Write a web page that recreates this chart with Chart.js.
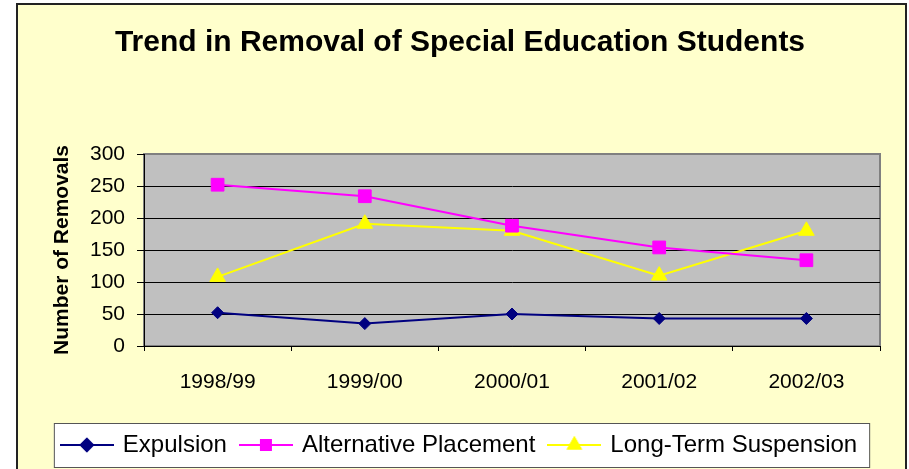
<!DOCTYPE html>
<html>
<head>
<meta charset="utf-8">
<script src="https://cdn.jsdelivr.net/npm/chart.js@4.4.1/dist/chart.umd.min.js"></script>
<style>
  html, body { margin: 0; padding: 0; background: #fff; }
  #frame { position: absolute; left: 16px; top: 3px; width: 887px; height: 480px; background: #FFFFCC; border: 2px solid #222; }
  #wrap { position: absolute; left: 0; top: 0; width: 909px; height: 469px; }
</style>
</head>
<body>
<div id="frame"></div>
<div id="wrap"><canvas id="chart" width="909" height="469"></canvas></div>
<script>
const categories = ['1998/99', '1999/00', '2000/01', '2001/02', '2002/03'];
const expulsion = [52, 35, 50, 43, 43];
const altPlacement = [252, 234, 188, 154, 134];
const longTermSuspension = [108, 191, 180, 110, 180];
const yTicks = [0, 50, 100, 150, 200, 250, 300];

const FONT = "'Liberation Sans', Arial, sans-serif";

// little line + marker picture for each legend entry
function legendIcon(color, style, r) {
  const cv = document.createElement('canvas');
  cv.width = 54; cv.height = 20;
  const g = cv.getContext('2d');
  g.strokeStyle = color;
  g.lineWidth = 2;
  g.beginPath(); g.moveTo(0, 10); g.lineTo(54, 10); g.stroke();
  Chart.helpers.drawPoint(g, { pointStyle: style, radius: r, borderWidth: 1, rotation: 0 }, 27, 10);
  g.fillStyle = color;
  g.fill();
  g.stroke();
  return cv;
}

const series = [
  { label: 'Expulsion', data: expulsion, color: '#000080', style: 'rectRot', r: 6 },
  { label: 'Alternative Placement', data: altPlacement, color: '#FF00FF', style: 'rect', r: 9 },
  { label: 'Long-Term Suspension', data: longTermSuspension, color: '#FFFF00', style: 'triangle', r: 9 },
];

const backdrop = {
  id: 'backdrop',
  beforeDraw(chart) {
    const { ctx, chartArea: a } = chart;
    ctx.save();
    ctx.fillStyle = '#C0C0C0';
    ctx.fillRect(a.left, a.top, a.right - a.left, a.bottom - a.top);
    ctx.strokeStyle = '#808080';
    ctx.lineWidth = 2;
    ctx.strokeRect(a.left, a.top, a.right - a.left, a.bottom - a.top);

    // box around the legend
    const hb = chart.legend.legendHitBoxes;
    if (hb && hb.length) {
      const l = Math.min(...hb.map(h => h.left)) - 9;
      const r = Math.max(...hb.map(h => h.left + h.width)) + 12;
      const cy = hb[0].top + hb[0].height / 2;
      ctx.fillStyle = '#fff';
      ctx.fillRect(l, cy - 22, r - l, 44);
      ctx.strokeStyle = '#555';
      ctx.lineWidth = 1;
      ctx.strokeRect(l + 0.5, cy - 22 + 0.5, r - l, 44);
    }
    ctx.restore();
  }
};

new Chart(document.getElementById('chart'), {
  type: 'line',
  data: {
    labels: categories,
    datasets: series.map(s => ({
      label: s.label,
      data: s.data,
      borderColor: s.color,
      backgroundColor: s.color,
      borderWidth: 2,
      pointStyle: s.style,
      pointRadius: s.r,
      pointBorderWidth: 1,
      tension: 0,
    })),
  },
  options: {
    responsive: false,
    animation: false,
    layout: { padding: { left: 40, right: 29, top: 0, bottom: 2 } },
    plugins: {
      title: {
        display: true,
        text: 'Trend in Removal of Special Education Students',
        color: '#000',
        font: { family: FONT, size: 30, weight: 'bold' },
        padding: { top: 25, bottom: 93 },
      },
      legend: {
        position: 'bottom',
        labels: {
          color: '#000',
          font: { family: FONT, size: 24 },
          usePointStyle: true,
          pointStyleWidth: 48,
          boxHeight: 24,
          padding: 15,
          generateLabels: () => series.map((s, i) => ({
            text: s.label,
            pointStyle: legendIcon(s.color, s.style, s.style === 'rectRot' ? 6 : 7),
            fillStyle: s.color,
            strokeStyle: s.color,
            lineWidth: 0,
            datasetIndex: i,
            fontColor: '#000',
          })),
        },
      },
      tooltip: { enabled: false },
    },
    scales: {
      x: {
        offset: true,
        afterFit: (scale) => { scale.height = 72; },
        grid: { display: true, offset: true, drawOnChartArea: false, tickLength: 5, tickColor: '#000' },
        border: { color: '#000', width: 1 },
        ticks: { color: '#000', font: { family: FONT, size: 21 }, padding: 19, maxRotation: 0 },
      },
      y: {
        min: 0,
        max: 300,
        afterFit: (scale) => { scale.width = 104; },
        afterBuildTicks: (scale) => { scale.ticks = yTicks.map(v => ({ value: v })); },
        grid: {
          color: (c) => (c.tick && c.tick.value === 300 ? 'rgba(0,0,0,0)' : '#000'),
          tickLength: 7,
          tickColor: '#000',
        },
        border: { color: '#000', width: 1 },
        ticks: { color: '#000', font: { family: FONT, size: 21 }, padding: 12 },
        title: {
          display: true,
          text: 'Number of Removals',
          color: '#000',
          font: { family: FONT, size: 21, weight: 'bold' },
          padding: { top: 10, bottom: 0 },
        },
      },
    },
  },
  plugins: [backdrop],
});
</script>
</body>
</html>
